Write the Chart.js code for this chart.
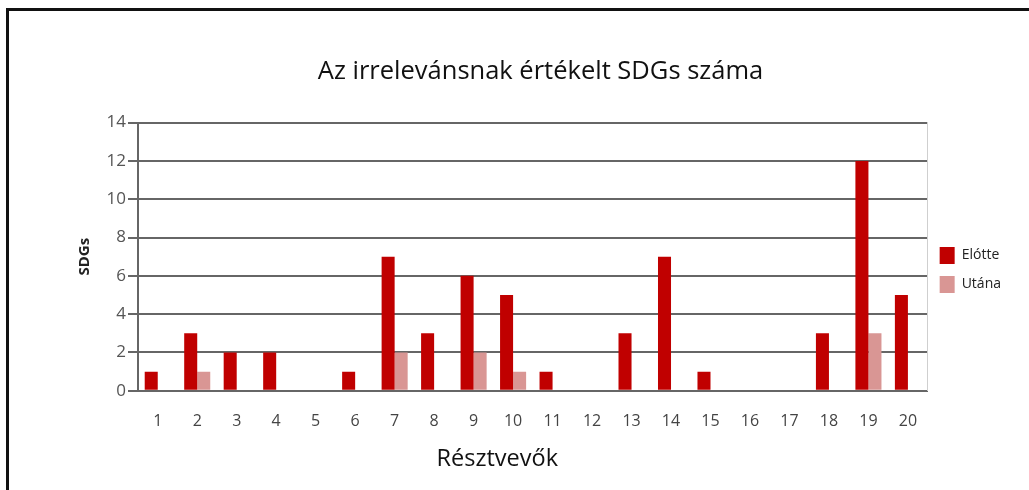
<!DOCTYPE html>
<html>
<head>
<meta charset="utf-8">
<script src="https://cdn.jsdelivr.net/npm/chart.js@4.4.1/dist/chart.umd.min.js"></script>
<style>
html,body{margin:0;padding:0;background:#fff;overflow:hidden}
#wrap{position:relative;width:1029px;height:490px}
#frame{position:absolute;left:6px;top:8px;width:1100px;height:600px;border-top:3px solid #111;border-left:3px solid #111;pointer-events:none}
canvas{position:absolute;left:0;top:0}
</style>
</head>
<body>
<div id="wrap">
<canvas id="c" width="1029" height="490"></canvas>
<div id="frame"></div>
</div>
<script>
const participants=["1","2","3","4","5","6","7","8","9","10","11","12","13","14","15","16","17","18","19","20"]
const before=[1,3,2,2,0,1,7,3,6,5,1,0,3,7,1,0,0,3,12,5]
const after=[0,1,0,0,0,0,2,0,2,1,0,0,0,0,0,0,0,0,3,0]
const yTicks=[0,2,4,6,8,10,12,14]

const font="'Open Sans', 'Noto Sans', sans-serif"
Chart.defaults.font.family=font

new Chart(document.getElementById("c"),{
type:"bar",
data:{labels:participants,datasets:[
{label:"Elótte",data:before,backgroundColor:"#c00000",categoryPercentage:0.66,barPercentage:1},
{label:"Utána",data:after,backgroundColor:"#d99694",categoryPercentage:0.66,barPercentage:1}
]},
options:{
responsive:false,
animation:false,
layout:{padding:{left:70,right:18,top:0,bottom:46}},
plugins:{
title:{display:true,text:"Az irrelevánsnak értékelt SDGs száma",color:"#111",
font:{size:25.5,weight:"normal"},padding:{top:56,bottom:36}},
legend:{position:"right",align:"start",
// empty legend title used only as a spacer above the entries
title:{display:true,text:" ",font:{size:10},padding:{top:0,bottom:223}},
labels:{boxWidth:15,boxHeight:17,padding:12,color:"#222",font:{size:14}}},
tooltip:{enabled:false}
},
scales:{
x:{
grid:{display:false},
border:{color:"#666",width:2},
ticks:{color:"#444",font:{size:16},padding:13},
title:{display:false}
},
y:{
min:0,max:14,
afterBuildTicks:s=>{s.ticks=yTicks.map(v=>({value:v}))},
afterFit:s=>{s.width=68},
grid:{color:"#666",lineWidth:2,tickLength:10,tickColor:"#666"},
border:{color:"#666",width:2},
ticks:{color:"#555",font:{size:17},padding:2},
title:{display:false}
},
yr:{
position:"right",min:0,max:14,
afterFit:s=>{s.width=0},
grid:{drawOnChartArea:false,drawTicks:false},
border:{color:"#cfcfcf",width:1},
ticks:{display:false}
}
}
},
plugins:[{
id:"axisTitles",
afterDraw(chart){
const {ctx,chartArea}=chart
ctx.save()
ctx.fillStyle="#111"
ctx.textAlign="center"
ctx.textBaseline="middle"
ctx.font="23.5px "+font
ctx.fillText("Résztvevők",chartArea.left+(chartArea.right-chartArea.left)*0.455,chartArea.bottom+69)
ctx.translate(85,(chartArea.top+chartArea.bottom)/2)
ctx.rotate(-Math.PI/2)
ctx.font="bold 15px "+font
ctx.fillStyle="#222"
ctx.fillText("SDGs",0,0)
ctx.restore()
}
}]
})
</script>
</body>
</html>
